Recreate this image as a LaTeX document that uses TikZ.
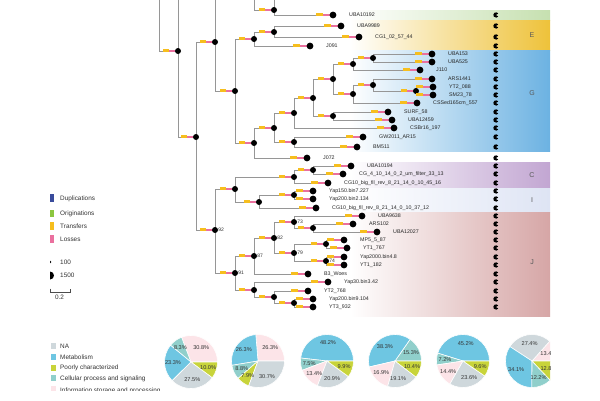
\documentclass[tikz,border=0pt]{standalone}
\usepackage{fontspec}
\setmainfont{Liberation Sans}
\definecolor{treegray}{RGB}{150,150,150}
\definecolor{tyel}{RGB}{246,190,30}
\definecolor{lpink}{RGB}{234,112,158}
\definecolor{dupblue}{RGB}{58,76,156}
\definecolor{origgreen}{RGB}{140,198,63}
\definecolor{bandgreen}{RGB}{198,224,176}
\definecolor{bandE}{RGB}{238,194,58}
\definecolor{bandG}{RGB}{108,178,226}
\definecolor{bandC}{RGB}{194,166,210}
\definecolor{bandI}{RGB}{222,228,244}
\definecolor{bandJ}{RGB}{214,166,166}
\definecolor{pNA}{RGB}{207,216,220}
\definecolor{pMet}{RGB}{110,198,226}
\definecolor{pPoor}{RGB}{200,212,58}
\definecolor{pCell}{RGB}{144,207,203}
\definecolor{pInfo}{RGB}{252,228,232}
\newcommand\leaf[4]{\coordinate (#1) at (#2,#3); \node[lab] (t#1) at (#2+16,#3+1.9) {#4};}
\newcommand\pslice[3]{\path[fill=#1, draw=white, line width=0.6pt] (0,0) -- (#2:26.5pt) arc[start angle=#2, end angle=#3, radius=26.5pt] -- cycle;}
\newcommand\plabel[3]{\node[plab] (#3) at (#1:18pt) {#2};}
\begin{document}
\begin{tikzpicture}[x=1pt,y=-1pt,
 branch/.style={draw=treegray, line width=0.9pt},
 tbar/.style={draw=tyel, line width=2.8pt},
 lbar/.style={draw=lpink, line width=2.2pt},
 ldot/.style={circle, fill=black, inner sep=0pt, minimum size=6.8pt},
 idot/.style={circle, fill=black, inner sep=0pt, minimum size=6pt},
 lab/.style={font=\fontsize{5.3}{6}\selectfont, anchor=base west, inner sep=0pt, text=black!85},
 bs/.style={font=\fontsize{5}{6}\selectfont, anchor=base west, inner sep=0pt, text=black!80},
 leg/.style={font=\fontsize{6.4}{7.5}\selectfont, anchor=base west, inner sep=0pt, text=black!80},
 plab/.style={font=\fontsize{5.6}{6.5}\selectfont, inner sep=0pt, text=black!80},
 bandlab/.style={font=\fontsize{7}{8}\selectfont, inner sep=0pt, text=black!65}]
\fill[white] (0,0) rectangle (600,400);
\useasboundingbox (0,0) rectangle (600,400);
\clip (0,0) rectangle (550,390.5);
% clade bands
\shade[left color=white, right color=bandgreen] (350,10) rectangle (550,20);
\shade[left color=white, right color=bandE] (350,20) rectangle (550,50);
\shade[left color=white, right color=bandG] (350,50.5) rectangle (550,151);
\shade[left color=white, right color=bandC] (350,162) rectangle (550,187.4);
\shade[left color=white, right color=bandI] (350,188) rectangle (550,212);
\shade[left color=white, right color=bandJ] (350,212.6) rectangle (550,316);
\node[bandlab] (bE) at (532,35) {E};
\node[bandlab] (bG) at (532,93) {G};
\node[bandlab] (bC) at (532,175) {C};
\node[bandlab] (bI) at (532,200) {I};
\node[bandlab] (bJ) at (532,262) {J};
% leaves
\leaf{L1}{333}{15}{UBA10192}
\leaf{L2}{341}{26}{UBA9989}
\leaf{L3}{359}{37}{CG1\_02\_57\_44}
\leaf{L4}{310}{46}{J091}
\leaf{L5}{432}{54}{UBA153}
\leaf{L6}{432}{62}{UBA525}
\leaf{L7}{420}{70}{J110}
\leaf{L8}{432}{79}{ARS1441}
\leaf{L9}{433}{87}{YT2\_088}
\leaf{L10}{433}{95}{SM23\_78}
\leaf{L11}{417}{103}{CSSed165cm\_557}
\leaf{L12}{388}{112}{SURF\_58}
\leaf{L13}{392}{120}{UBA12459}
\leaf{L14}{394}{128}{CSBr16\_197}
\leaf{L15}{363}{137}{GW2011\_AR15}
\leaf{L16}{357}{147}{BM511}
\leaf{L17}{307}{158}{J072}
\leaf{L18}{351}{166}{UBA10194}
\leaf{L19}{343}{174}{CG\_4\_10\_14\_0\_2\_um\_filter\_33\_13}
\leaf{L20}{328}{183}{CG10\_big\_fil\_rev\_8\_21\_14\_0\_10\_45\_16}
\leaf{L21}{313}{191}{Yap150.bin7.227}
\leaf{L22}{313}{199}{Yap200.bin2.134}
\leaf{L23}{316}{208}{CG10\_big\_fil\_rev\_8\_21\_14\_0\_10\_37\_12}
\leaf{L24}{362}{216}{UBA9638}
\leaf{L25}{353}{224}{ARS102}
\leaf{L26}{377}{232}{UBA12027}
\leaf{L27}{344}{240}{MP5\_5\_87}
\leaf{L28}{347}{248}{YT1\_767}
\leaf{L29}{344}{257}{Yap2000.bin4.8}
\leaf{L30}{344}{265}{YT1\_182}
\leaf{L31}{308}{274}{B3\_Woes}
\leaf{L32}{328}{282}{Yap30.bin3.42}
\leaf{L33}{308}{291}{YT2\_768}
\leaf{L34}{313}{299}{Yap200.bin9.104}
\leaf{L35}{313}{307}{YT3\_932}
% internal nodes
\coordinate (P0) at (159,0);
\coordinate (N1top) at (178,0);
\coordinate (N3top) at (215,0);
\coordinate (Ptop) at (254,0);
\coordinate (Ntoptop) at (274,0);
\coordinate (N1) at (178,51);
\coordinate (N2) at (196,137);
\coordinate (N3) at (215,42);
\coordinate (N4) at (235,91);
\coordinate (N5) at (254,39);
\coordinate (N7) at (274,32);
\coordinate (Ntop) at (274,10);
\coordinate (N6) at (254,143);
\coordinate (N8) at (274,128);
\coordinate (N9) at (294,113);
\coordinate (N10) at (294,142);
\coordinate (N11) at (313,98);
\coordinate (N12) at (333,79);
\coordinate (N13) at (333,116);
\coordinate (N14) at (353,64);
\coordinate (N15) at (353,94);
\coordinate (N16) at (373,58);
\coordinate (N17) at (373,85);
\coordinate (N18) at (416,91);
\coordinate (N92) at (215,230);
\coordinate (NCI) at (235,189);
\coordinate (NC) at (294,177);
\coordinate (NC2) at (313,170);
\coordinate (NI) at (259,202);
\coordinate (NI2) at (294,195);
\coordinate (N91) at (235,273);
\coordinate (N87) at (254,256);
\coordinate (N82) at (274,238);
\coordinate (N73) at (294,222);
\coordinate (NA2) at (313,228);
\coordinate (N79) at (294,253);
\coordinate (NM) at (326,244);
\coordinate (N74) at (326,261);
\coordinate (NL) at (254,290);
\coordinate (NL2) at (274,297);
\coordinate (NL3) at (294,303);
% branches
\draw[branch] (N1top) -- (N1);
\draw[branch] (N3top) -- (N3);
\draw[branch] (Ntoptop) -- (Ntop);
\foreach \p/\c in {P0/N1, N1/N2, N2/N3, N2/N92, N3/N4, N4/N5, N4/N6, N5/N7, N5/L4,
  N7/L2, N7/L3, Ptop/Ntop, Ntop/L1, N6/N8, N6/L17, N8/N9, N8/N10, N10/L15, N10/L16,
  N9/N11, N9/L14, N11/N12, N11/N13, N13/L12, N13/L13, N12/N14, N12/N15, N14/N16, N14/L7,
  N16/L5, N16/L6, N15/N17, N15/L11, N17/L8, N17/N18, N18/L9, N18/L10,
  N92/NCI, N92/N91, NCI/NC, NCI/NI, NC/NC2, NC/L20, NC2/L18, NC2/L19, NI/NI2, NI/L23,
  NI2/L21, NI2/L22, N91/N87, N91/NL, N87/N82, N87/L31, N82/N73, N82/N79, N73/L24, N73/NA2,
  NA2/L25, NA2/L26, N79/NM, N79/N74, NM/L27, NM/L28, N74/L29, N74/L30, NL/L32, NL/NL2,
  NL2/L33, NL2/NL3, NL3/L34, NL3/L35}
  \draw[branch] (\p) |- (\c);
% transfer / loss bars
\foreach \c in {N1,N2,N3,N4,N5,N7,Ntop,N6,N8,N9,N10,N11,N12,N13,N14,N15,N16,N17,N18,
  N92,NCI,NC,NC2,NI,NI2,N91,N87,N82,N73,NA2,N79,NM,N74,NL,NL2,NL3} {
  \draw[tbar] ([xshift=-15pt,yshift=0.6pt]\c) -- ([xshift=-9pt,yshift=0.6pt]\c);
  \draw[lbar] ([xshift=-9pt]\c) -- ([xshift=-3pt]\c);
  \node[idot] (d\c) at (\c) {};
}
\foreach \i in {1,...,35} {
  \draw[tbar] ([xshift=-16.6pt,yshift=0.6pt]L\i) -- ([xshift=-10pt,yshift=0.6pt]L\i);
  \draw[lbar] ([xshift=-10pt]L\i) -- ([xshift=-3.4pt]L\i);
  \node[ldot] (dL\i) at (L\i) {};
}
% support values
\node[bs] (s92) at (218.2,231.8) {92};
\node[bs] (s91) at (238.2,274.8) {91};
\node[bs] (s87) at (257.2,257.8) {87};
\node[bs] (s82) at (277.2,239.8) {82};
\node[bs] (s73) at (297.2,223.8) {73};
\node[bs] (s79) at (297.2,254.8) {79};
\node[bs] (s74) at (329.2,262.8) {74};
% pie column
\foreach \yy in {15,26,37,46,54,62,70,79,87,95,103,112,120,128,137,147,158,166,174,183,
  191,199,208,216,224,232,240,248,257,265,274,282,291,299,307}
  \fill (496,\yy) -- +(35:2.7pt) arc[start angle=35, end angle=325, radius=2.7pt] -- cycle;
% event legend
\fill[dupblue] (50,194) rectangle (54.3,202);
\node[leg] (lgD) at (60,200.3) {Duplications};
\fill[origgreen] (50,209.5) rectangle (54.3,217);
\node[leg] (lgO) at (60,215.6) {Originations};
\fill[tyel] (50,222) rectangle (54.3,230);
\node[leg] (lgT) at (60,228.3) {Transfers};
\fill[lpink] (50,235) rectangle (54.3,243);
\node[leg] (lgL) at (60,241.3) {Losses};
\fill (50,262) -- +(90:1.3pt) arc[start angle=90, end angle=-90, radius=1.3pt] -- cycle;
\node[leg] (lg100) at (60,264.3) {100};
\fill (50,275.5) -- +(90:4pt) arc[start angle=90, end angle=-90, radius=4pt] -- cycle;
\node[leg] (lg1500) at (60,277.8) {1500};
\draw[line width=0.5pt, black!70] (50,288.5) -- (50,292) -- (70,292) -- (70,288.5);
\node[leg, anchor=base] (lgS) at (59.5,299.8) {0.2};
% category legend
\fill[pNA] (51,343) rectangle (55.5,349);
\node[leg] (cNA) at (60,348.3) {NA};
\fill[pMet] (51,353.8) rectangle (55.5,359.8);
\node[leg] (cM) at (60,359.1) {Metabolism};
\fill[pPoor] (51,364.6) rectangle (55.5,370.6);
\node[leg] (cP) at (60,369.9) {Poorly characterized};
\fill[pCell] (51,375.4) rectangle (55.5,381.4);
\node[leg] (cC) at (60,380.7) {Cellular process and signaling};
\fill[pInfo] (51,386.2) rectangle (55.5,392.2);
\node[leg] (cI) at (60,392.3) {Information storage and processing};
% pies
\begin{scope}[shift={(191,362)}]
\pslice{pInfo}{0}{110.9}\pslice{pCell}{110.9}{140.8}\pslice{pMet}{140.8}{224.7}
\pslice{pNA}{224.7}{323.7}\pslice{pPoor}{323.7}{360}
\plabel{55.45}{30.8\%}{a1}\plabel{125.85}{8.3\%}{a2}\plabel{182.75}{23.3\%}{a3}
\plabel{274.2}{27.5\%}{a4}\plabel{341.85}{10.0\%}{a5}
\end{scope}
\begin{scope}[shift={(258,361)}]
\pslice{pInfo}{0}{94.7}\pslice{pMet}{94.7}{189.4}\pslice{pCell}{189.4}{221.1}
\pslice{pPoor}{221.1}{249.5}\pslice{pNA}{249.5}{360}
\plabel{47.35}{26.3\%}{b1}\plabel{142.05}{26.3\%}{b2}\plabel{205.25}{8.8\%}{b3}
\plabel{235.3}{7.9\%}{b4}\plabel{300}{30.7\%}{b5}
\end{scope}
\begin{scope}[shift={(327,361)}]
\pslice{pMet}{0}{173.5}\pslice{pCell}{173.5}{200.5}\pslice{pInfo}{200.5}{248.8}
\pslice{pNA}{248.8}{324}\pslice{pPoor}{324}{360}
\plabel{86.75}{48.2\%}{c1}\plabel{187}{7.5\%}{c2}\plabel{224.65}{13.4\%}{c3}
\plabel{286.4}{20.9\%}{c4}\plabel{342}{9.9\%}{c5}
\end{scope}
\begin{scope}[shift={(395,361)}]
\pslice{pCell}{0}{55.1}\pslice{pMet}{55.1}{193}\pslice{pInfo}{193}{253.8}
\pslice{pNA}{253.8}{322.6}\pslice{pPoor}{322.6}{360}
\plabel{27.55}{15.3\%}{e1}\plabel{124.05}{38.3\%}{e2}\plabel{220}{16.9\%}{e3}
\plabel{280}{19.1\%}{e4}\plabel{341.3}{10.4\%}{e5}
\end{scope}
\begin{scope}[shift={(463,361)}]
\pslice{pMet}{0}{162.7}\pslice{pCell}{162.7}{188.6}\pslice{pInfo}{188.6}{240.4}
\pslice{pNA}{240.4}{325.4}\pslice{pPoor}{325.4}{360}
\plabel{81.35}{45.2\%}{f1}\plabel{175.65}{7.2\%}{f2}\plabel{214.5}{14.4\%}{f3}
\plabel{290}{23.6\%}{f4}\plabel{342.7}{9.6\%}{f5}
\end{scope}
\begin{scope}[shift={(532,361)}]
\pslice{pInfo}{0}{48.2}\pslice{pNA}{48.2}{146.9}\pslice{pMet}{146.9}{269.7}
\pslice{pCell}{269.7}{313.6}\pslice{pPoor}{313.6}{360}
\plabel{24.1}{13.4\%}{g1}\plabel{97.55}{27.4\%}{g2}\plabel{208.3}{34.1\%}{g3}
\plabel{291.65}{12.2\%}{g4}\plabel{336.8}{12.8\%}{g5}
\end{scope}
\end{tikzpicture}
\end{document}
